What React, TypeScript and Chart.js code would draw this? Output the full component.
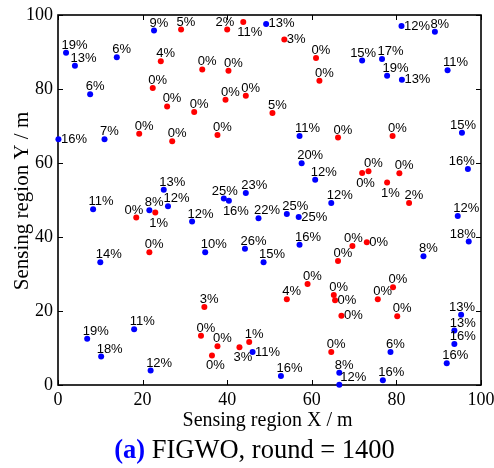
import { useEffect, useRef } from 'react';
import { Chart, registerables } from 'chart.js';

Chart.register(...registerables);

// Blue nodes : X, Y, residual energy %
const blueX = [1.9, 4.0, 13.9, 22.7, 49.2, 81.2, 89.1, 7.6, 71.9, 76.6, 77.8, 81.3, 92.1, 0.1, 11.0, 57.1, 95.5, 57.6, 96.9, 60.8, 25.0, 39.2, 44.4, 8.3, 21.6, 26.0, 40.4, 31.7, 47.4, 54.1, 56.9, 64.6, 94.5, 97.1, 10.0, 34.8, 44.2, 48.6, 57.1, 86.4, 18.0, 6.9, 10.2, 21.9, 46.0, 95.3, 93.7, 93.7, 91.9, 78.6, 52.7, 66.5, 66.5, 76.8];
const blueY = [89.8, 86.3, 88.6, 95.8, 97.6, 97.0, 95.5, 78.6, 87.7, 88.1, 83.6, 82.5, 85.1, 66.4, 66.4, 67.3, 68.2, 59.9, 58.4, 55.5, 52.8, 50.4, 51.9, 47.5, 47.2, 48.3, 49.8, 44.2, 45.1, 46.2, 45.4, 49.2, 45.7, 38.8, 33.2, 35.9, 36.8, 33.2, 37.9, 34.8, 15.1, 12.5, 7.7, 3.9, 8.9, 19.0, 14.7, 11.1, 5.9, 8.9, 2.4, 3.3, 0.1, 1.3];
const bluePct = [19, 13, 6, 9, 13, 12, 8, 6, 15, 17, 19, 13, 11, 16, 7, 11, 15, 20, 16, 12, 13, 25, 23, 11, 8, 12, 16, 12, 22, 25, 25, 12, 12, 18, 14, 10, 26, 15, 16, 8, 11, 19, 18, 12, 11, 13, 13, 16, 16, 6, 16, 8, 12, 16];
const blueLabelPos = ['n', 'n', 'n', 'n', 'e', 'e', 'n', 'n', 'nc', 'n', 'n', 'e', 'n', 'e', 'n', 'n', 'nc', 'n', 'nw', 'n', 'n', 'nc', 'n', 'n', 'n', 'n', 's', 'n', 'n', 'n', 'e', 'n', 'n', 'nw', 'n', 'n', 'n', 'n', 'n', 'n', 'n', 'n', 'n', 'n', 'e', 'nc', 'n', 'n', 'n', 'n', 'n', 'n', 'ne', 'n'];

// Red nodes
const redX = [29.1, 40.0, 43.8, 24.3, 34.1, 40.3, 22.4, 25.8, 32.2, 39.6, 44.4, 53.5, 61.0, 61.8, 50.7, 19.2, 27.0, 37.7, 18.5, 23.0, 66.2, 79.1, 71.9, 73.4, 80.7, 77.8, 83.0, 21.6, 69.6, 73.0, 66.2, 59.0, 54.1, 65.2, 65.5, 67.0, 75.6, 79.2, 80.2, 64.6, 34.6, 33.8, 37.7, 42.9, 45.2, 36.4];
const redY = [96.1, 96.1, 98.1, 87.5, 85.3, 84.9, 80.3, 75.3, 73.8, 77.1, 78.2, 93.4, 88.4, 82.2, 73.5, 67.9, 65.9, 67.6, 45.3, 46.6, 66.9, 67.3, 57.3, 57.8, 57.2, 54.7, 49.2, 35.9, 37.6, 38.6, 33.5, 27.3, 23.2, 24.3, 22.9, 18.7, 23.2, 26.4, 18.6, 8.9, 21.1, 13.3, 10.5, 10.2, 11.6, 8.0];
const redPct = [5, 2, 11, 4, 0, 0, 0, 0, 0, 0, 0, 3, 0, 0, 5, 0, 0, 0, 0, 1, 0, 0, 0, 0, 0, 1, 2, 0, 0, 0, 0, 0, 4, 0, 0, 0, 0, 0, 0, 0, 3, 0, 0, 3, 1, 0];
const redLabelPos = ['n', 'nw', 's', 'n', 'n', 'n', 'n', 'n', 'n', 'n', 'n', 'e', 'n', 'n', 'n', 'n', 'n', 'n', 'nw', 's', 'n', 'n', 's', 'n', 'n', 's', 'n', 'n', 'nc', 'e', 'n', 'n', 'n', 'n', 'e', 'e', 'n', 'n', 'n', 'n', 'n', 'n', 'n', 's', 'n', 's'];

const xTicks = [0, 20, 40, 60, 80, 100];
const yTicks = [0, 20, 40, 60, 80, 100];

const xTitle = 'Sensing region X / m';
const yTitle = 'Sensing region Y / m';
const captionTag = '(a)';
const captionText = ' FIGWO, round = 1400';

const SERIF = '"Liberation Serif", "Times New Roman", serif';
const SANS = '"Liberation Sans", Arial, sans-serif';

function drawLabel(ctx: CanvasRenderingContext2D, text: string, px: number, py: number, pos: string) {
  ctx.textBaseline = 'middle';
  switch (pos) {
    case 'nc':
      ctx.textAlign = 'center';
      ctx.fillText(text, px + 1, py - 7.5);
      break;
    case 'nw':
      ctx.textAlign = 'right';
      ctx.fillText(text, px + 7, py - 7);
      break;
    case 'ne':
      ctx.textAlign = 'left';
      ctx.fillText(text, px + 1, py - 7);
      break;
    case 'e':
      ctx.textAlign = 'left';
      ctx.fillText(text, px + 2.5, py);
      break;
    case 's':
      ctx.textAlign = 'left';
      ctx.fillText(text, px - 6, py + 10.5);
      break;
    default:
      ctx.textAlign = 'left';
      ctx.fillText(text, px - 4.5, py - 7.5);
  }
}

const framePlugin = {
  id: 'frame',
  beforeDatasetsDraw(chart: any) {
    const { ctx, chartArea } = chart;
    const { left, right, top, bottom } = chartArea;
    const xs = chart.scales.x;
    const ys = chart.scales.y;
    ctx.save();
    ctx.strokeStyle = '#000';
    ctx.lineWidth = 1.6;
    ctx.strokeRect(left, top, right - left, bottom - top);
    ctx.lineWidth = 1;
    ctx.beginPath();
    const tl = 5;
    xTicks.forEach((v) => {
      const p = Math.round(xs.getPixelForValue(v)) + 0.5;
      ctx.moveTo(p, bottom);
      ctx.lineTo(p, bottom - tl);
      ctx.moveTo(p, top);
      ctx.lineTo(p, top + tl);
    });
    yTicks.forEach((v) => {
      const p = Math.round(ys.getPixelForValue(v)) + 0.5;
      ctx.moveTo(left, p);
      ctx.lineTo(left + tl, p);
      ctx.moveTo(right, p);
      ctx.lineTo(right - tl, p);
    });
    ctx.stroke();
    ctx.restore();
  },
  afterDatasetsDraw(chart: any) {
    const { ctx, chartArea } = chart;
    ctx.save();
    ctx.fillStyle = '#000';
    ctx.font = `13px ${SANS}`;
    const sets = [
      { pct: bluePct, pos: blueLabelPos },
      { pct: redPct, pos: redLabelPos },
    ];
    sets.forEach((s, di) => {
      const meta = chart.getDatasetMeta(di);
      meta.data.forEach((el: any, i: number) => {
        drawLabel(ctx, `${s.pct[i]}%`, el.x, el.y, s.pos[i]);
      });
    });

    // axis titles
    const cx = (chartArea.left + chartArea.right) / 2;
    const cy = (chartArea.top + chartArea.bottom) / 2;
    ctx.font = `20px ${SERIF}`;
    ctx.textAlign = 'center';
    ctx.textBaseline = 'alphabetic';
    ctx.fillText(xTitle, cx - 2, 426);

    ctx.save();
    ctx.translate(28, cy + 1);
    ctx.rotate(-Math.PI / 2);
    ctx.font = `21px ${SERIF}`;
    ctx.fillText(yTitle, 0, 0);
    ctx.restore();

    // caption
    ctx.textAlign = 'left';
    ctx.font = `bold 26.5px ${SERIF}`;
    const w1 = ctx.measureText(captionTag).width;
    ctx.font = `26.5px ${SERIF}`;
    const w2 = ctx.measureText(captionText).width;
    const startX = cx - 15 - (w1 + w2) / 2;
    ctx.font = `bold 26.5px ${SERIF}`;
    ctx.fillStyle = '#0000ff';
    ctx.fillText(captionTag, startX, 458);
    ctx.font = `26.5px ${SERIF}`;
    ctx.fillStyle = '#000';
    ctx.fillText(captionText, startX + w1, 458);
    ctx.restore();
  },
};

export default function App() {
  const ref = useRef<HTMLCanvasElement | null>(null);

  useEffect(() => {
    document.body.style.margin = '0';
    if (!ref.current) return;
    const chart = new Chart(ref.current, {
      type: 'scatter',
      data: {
        datasets: [
          {
            data: blueX.map((x, i) => ({ x, y: blueY[i] })),
            backgroundColor: '#0000ff',
            borderWidth: 0,
            pointRadius: 3,
            clip: false as any,
          },
          {
            data: redX.map((x, i) => ({ x, y: redY[i] })),
            backgroundColor: '#ff0000',
            borderWidth: 0,
            pointRadius: 3,
            clip: false as any,
          },
        ],
      },
      options: {
        animation: false,
        responsive: false,
        devicePixelRatio: 1,
        layout: { padding: { top: 15, right: 13, left: 0, bottom: 0 } },
        plugins: { legend: { display: false }, tooltip: { enabled: false } },
        scales: {
          x: {
            type: 'linear',
            min: 0,
            max: 100,
            afterBuildTicks: (s: any) => {
              s.ticks = xTicks.map((v) => ({ value: v }));
            },
            ticks: { font: { family: SERIF, size: 18 }, color: '#000', padding: 4, maxRotation: 0 },
            grid: { display: false, drawTicks: false, tickLength: 0 },
            border: { display: false },
            afterFit: (s: any) => {
              s.height = 83;
              s.paddingLeft = 0;
              s.paddingRight = 0;
            },
          },
          y: {
            type: 'linear',
            min: 0,
            max: 100,
            afterBuildTicks: (s: any) => {
              s.ticks = yTicks.map((v) => ({ value: v }));
            },
            ticks: { font: { family: SERIF, size: 18 }, color: '#000', padding: 5 },
            grid: { display: false, drawTicks: false, tickLength: 0 },
            border: { display: false },
            afterFit: (s: any) => {
              s.width = 58;
              s.paddingTop = 0;
              s.paddingBottom = 0;
            },
          },
        },
      },
      plugins: [framePlugin],
    });
    return () => chart.destroy();
  }, []);

  return (
    <div style={{ position: 'absolute', left: 0, top: 0, width: 494, height: 468 }}>
      <canvas ref={ref} width={494} height={468} />
    </div>
  );
}
